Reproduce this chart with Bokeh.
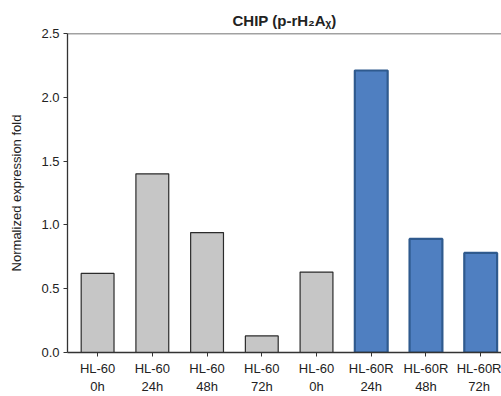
from bokeh.plotting import figure
from bokeh.models import ColumnDataSource, FixedTicker, Span, Range1d
from bokeh.embed import file_html
from bokeh.resources import INLINE

cell_lines = ["HL-60", "HL-60", "HL-60", "HL-60", "HL-60", "HL-60R", "HL-60R", "HL-60R"]
time_points = ["0h", "24h", "48h", "72h", "0h", "24h", "48h", "72h"]
values = [0.62, 1.40, 0.94, 0.13, 0.63, 2.21, 0.89, 0.78]
fill_colors = ["#c6c6c6"] * 5 + ["#4f7fc1"] * 3
line_colors = ["#2b2b2b"] * 5 + ["#2f5a8e"] * 3
line_widths = [1.2] * 5 + [2.2] * 3
y_ticks = [0.0, 0.5, 1.0, 1.5, 2.0, 2.5]

xs = list(range(len(values)))
labels = {i: f"{c}\n{t}" for i, (c, t) in enumerate(zip(cell_lines, time_points))}

src = ColumnDataSource(dict(x=xs, top=values, fill=fill_colors, line=line_colors, lw=line_widths))

p = figure(width=501, height=396, output_backend="svg", toolbar_location=None,
           x_range=Range1d(-0.55, 7.38), y_range=Range1d(0, 2.5),
           min_border_left=67, min_border_right=0, min_border_top=33, min_border_bottom=43,
           title="CHIP (p-rH\u2082A\u1d6a)")
p.title.align = "center"
p.title.text_font = "Liberation Sans"
p.title.text_font_size = "15px"
p.title.text_font_style = "bold"
p.title.text_color = "#222222"
p.title.offset = 3

p.vbar(x="x", top="top", width=0.6, bottom=0, source=src,
       fill_color="fill", line_color="line", line_width="lw")

p.outline_line_color = None
p.grid.visible = False
p.add_layout(Span(location=2.5, dimension="width", line_color="#444444", line_width=1.5))

p.yaxis.ticker = FixedTicker(ticks=y_ticks)
p.yaxis.major_label_overrides = {0: "0.0", 0.5: "0.5", 1: "1.0", 1.5: "1.5", 2: "2.0", 2.5: "2.5"}
p.yaxis.axis_label = "Normalized expression fold"
p.yaxis.axis_label_text_font = "Liberation Sans"
p.yaxis.axis_label_text_font_size = "13px"
p.yaxis.axis_label_text_font_style = "normal"
p.yaxis.axis_label_text_color = "#222222"
p.yaxis.axis_label_standoff = 14

p.xaxis.ticker = FixedTicker(ticks=xs)
p.xaxis.major_label_overrides = labels

for ax in (p.xaxis[0], p.yaxis[0]):
    ax.axis_line_color = "#333333"
    ax.axis_line_width = 1.3
    ax.major_tick_line_color = "#333333"
    ax.major_tick_in = 0
    ax.major_tick_out = 4
    ax.minor_tick_line_color = None
    ax.major_label_text_font = "Liberation Sans"
    ax.major_label_text_font_size = "13px"
    ax.major_label_text_color = "#222222"
    ax.major_label_standoff = 4

open("out.html", "w").write(file_html(p, INLINE))
